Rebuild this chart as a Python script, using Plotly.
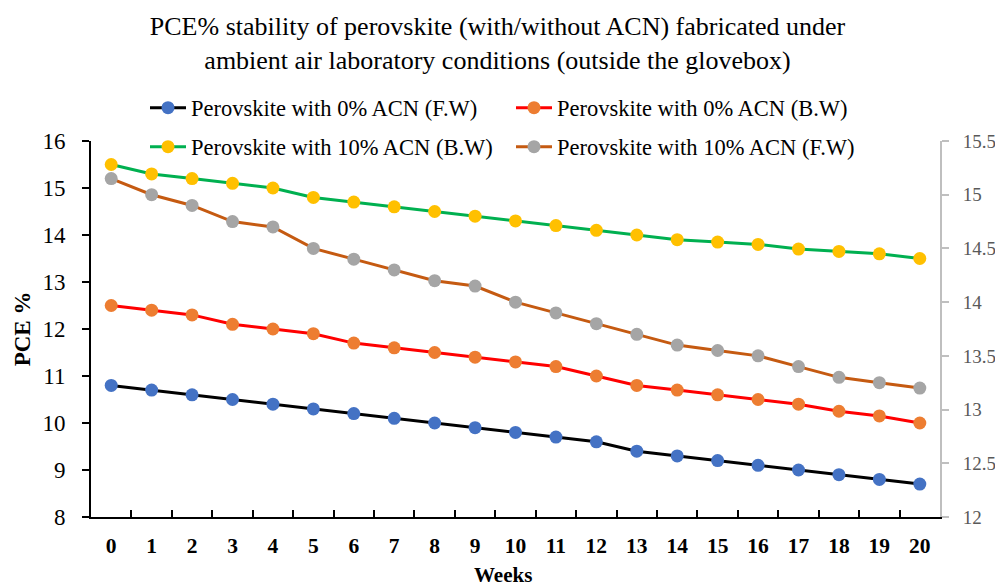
import plotly.graph_objects as go

weeks = [str(i) for i in range(21)]
acn0_fw = [10.8, 10.7, 10.6, 10.5, 10.4, 10.3, 10.2, 10.1, 10.0, 9.9, 9.8,
           9.7, 9.6, 9.4, 9.3, 9.2, 9.1, 9.0, 8.9, 8.8, 8.7]
acn0_bw = [12.5, 12.4, 12.3, 12.1, 12.0, 11.9, 11.7, 11.6, 11.5, 11.4, 11.3,
           11.2, 11.0, 10.8, 10.7, 10.6, 10.5, 10.4, 10.25, 10.15, 10.0]
acn10_bw = [15.5, 15.3, 15.2, 15.1, 15.0, 14.8, 14.7, 14.6, 14.5, 14.4, 14.3,
            14.2, 14.1, 14.0, 13.9, 13.85, 13.8, 13.7, 13.65, 13.6, 13.5]
acn10_fw = [15.15, 15.0, 14.9, 14.75, 14.7, 14.5, 14.4, 14.3, 14.2, 14.15, 14.0,
            13.9, 13.8, 13.7, 13.6, 13.55, 13.5, 13.4, 13.3, 13.25, 13.2]

FONT = "Liberation Serif"
W, H = 995, 587
L, R, T, B = 91, 55, 141, 70
PW, PH = W - L - R, H - T - B


def px_x(x):
    return (x - L) / PW


def px_y(y):
    return (H - B - y) / PH


fig = go.Figure()
series = [
    ("Perovskite with 0% ACN (F.W)", acn0_fw, "#000000", "#4472C4", "y", "legend"),
    ("Perovskite with 0% ACN (B.W)", acn0_bw, "#FF0000", "#ED7D31", "y", "legend"),
    ("Perovskite with 10% ACN (B.W)", acn10_bw, "#00B050", "#FFC000", "y", "legend2"),
    ("Perovskite with 10% ACN (F.W)", acn10_fw, "#C55A11", "#A5A5A5", "y2", "legend2"),
]
for name, vals, lc, mc, ax, lg in series:
    fig.add_trace(go.Scatter(
        x=weeks, y=vals, name=name, yaxis=ax, legend=lg, mode="lines+markers",
        line=dict(color=lc, width=3),
        marker=dict(color=mc, size=13, line=dict(width=0)),
    ))

legend_common = dict(
    orientation="h", xanchor="left", yanchor="middle",
    entrywidth=315, entrywidthmode="pixels", itemwidth=36,
    font=dict(size=22.5, family=FONT, color="black"),
    bgcolor="rgba(0,0,0,0)",
)

fig.update_layout(
    width=W, height=H,
    margin=dict(l=L, r=R, t=T, b=B, autoexpand=False),
    paper_bgcolor="white", plot_bgcolor="white",
    font=dict(family=FONT, color="black"),
    title=dict(
        text="PCE% stability of perovskite (with/without ACN) fabricated under<br>ambient air laboratory conditions (outside the glovebox)",
        x=0.5, xanchor="center", y=1 - 35 / H, yanchor="middle",
        font=dict(size=26, family=FONT, color="black"),
    ),
    legend=dict(x=px_x(145), y=px_y(108), **legend_common),
    legend2=dict(x=px_x(145), y=px_y(147), **legend_common),
    xaxis=dict(
        type="category", range=[-0.5, 20.5], tickson="boundaries",
        ticks="inside", ticklen=7, tickcolor="black", tickwidth=1.5,
        showline=True, linecolor="black", linewidth=2,
        showgrid=False, zeroline=False, automargin=False,
        tickfont=dict(size=21.5, family=FONT, color="black", weight="bold"),
        ticklabelstandoff=8,
    ),
    yaxis=dict(
        range=[8, 16], dtick=1, tick0=8,
        ticks="outside", ticklen=7, tickcolor="black", tickwidth=1.5,
        showline=True, linecolor="black", linewidth=2,
        showgrid=False, zeroline=False, automargin=False,
        tickfont=dict(size=23, family=FONT, color="black"),
        ticklabelstandoff=12,
        title=dict(text="PCE %", font=dict(size=23, family=FONT, color="black", weight="bold"), standoff=5),
    ),
    yaxis2=dict(
        range=[12, 15.5], dtick=0.5, tick0=12, overlaying="y", side="right",
        ticks="outside", ticklen=7, tickcolor="#BFBFBF", tickwidth=1.5,
        showline=True, linecolor="#BFBFBF", linewidth=2,
        showgrid=False, zeroline=False, automargin=False,
        tickfont=dict(size=19, family=FONT, color="#595959"),
        ticklabelstandoff=10,
    ),
    annotations=[dict(
        text="<b>Weeks</b>", xref="paper", yref="paper",
        x=px_x(503), y=px_y(575),
        xanchor="center", yanchor="middle", showarrow=False,
        font=dict(size=21, family=FONT, color="black"),
    )],
)

fig.write_html("out.html")
